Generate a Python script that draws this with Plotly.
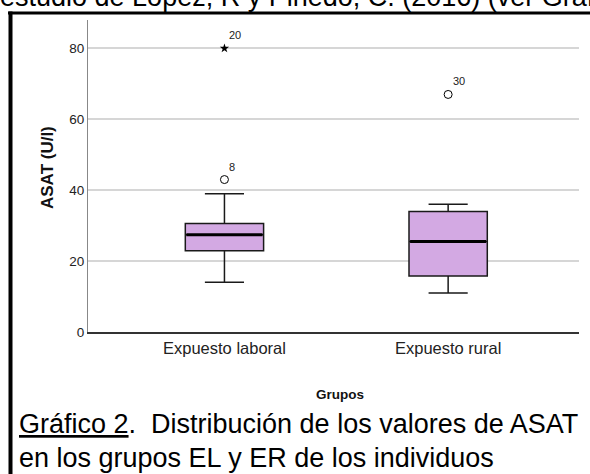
import plotly.graph_objects as go

# ---- data ----
groups = ["Expuesto laboral", "Expuesto rural"]
q1 = [22.9, 15.8]
median = [27.4, 25.5]
q3 = [30.6, 34.0]
lower_whisker = [14.0, 11.0]
upper_whisker = [39.0, 36.0]

outlier_groups = ["Expuesto laboral", "Expuesto rural"]
outlier_values = [43.0, 67.0]
outlier_ids = ["8", "30"]

extreme_groups = ["Expuesto laboral"]
extreme_values = [80.0]
extreme_ids = ["20"]

y_ticks = [0, 20, 40, 60, 80]

BOX_W = 0.35
FILL = "#D3A9E3"
ARIAL = "Liberation Sans, Arial, sans-serif"

ML, MR, MT, MB = 88, 11, 20, 142
W, H = 590, 474

fig = go.Figure()

fig.add_trace(go.Box(
    x=groups, q1=q1, median=median, q3=q3,
    lowerfence=lower_whisker, upperfence=upper_whisker,
    width=BOX_W, whiskerwidth=0.5,
    fillcolor=FILL, line=dict(color="#1a1a1a", width=1.5),
    boxpoints=False, showlegend=False, hoverinfo="skip",
))

# thicker median lines
for i, g in enumerate(groups):
    fig.add_trace(go.Scatter(
        x=[i - BOX_W / 2 + 0.005, i + BOX_W / 2 - 0.005], y=[median[i], median[i]],
        mode="lines", line=dict(color="black", width=3),
        showlegend=False, hoverinfo="skip", xaxis="x2",
    ))

fig.add_trace(go.Scatter(
    x=outlier_groups, y=outlier_values, mode="markers",
    marker=dict(symbol="circle-open", size=8, color="black", line=dict(width=1)),
    showlegend=False, hoverinfo="skip",
))
fig.add_trace(go.Scatter(
    x=extreme_groups, y=extreme_values, mode="markers",
    marker=dict(symbol="star", size=7, color="black", line=dict(width=0)),
    showlegend=False, hoverinfo="skip",
))

for g, v, t in list(zip(outlier_groups, outlier_values, outlier_ids)) + list(zip(extreme_groups, extreme_values, extreme_ids)):
    fig.add_annotation(x=g, y=v, text=t, showarrow=False, xanchor="left", yanchor="bottom",
                       xshift=3, yshift=5, font=dict(family=ARIAL, size=11, color="#222"))

XR = [-0.61, 1.585]

fig.update_layout(
    width=W, height=H,
    margin=dict(l=ML, r=MR, t=MT, b=MB, autoexpand=False),
    paper_bgcolor="white", plot_bgcolor="white",
    xaxis=dict(
        type="category", categoryorder="array", categoryarray=groups,
        range=XR, showgrid=False, showline=True, linecolor="#333", linewidth=1.5,
        ticks="", tickfont=dict(family=ARIAL, size=16.5, color="#222"),
        zeroline=False, automargin=False,
    ),
    xaxis2=dict(overlaying="x", range=XR, visible=False),
    yaxis=dict(
        range=[0, 88], tickvals=y_ticks, showgrid=True, gridcolor="#d6d6d6", gridwidth=1.5,
        showline=True, linecolor="#888", linewidth=1, ticks="", zeroline=False,
        tickfont=dict(family=ARIAL, size=13.5, color="#222"), automargin=False,
    ),
)

def px2paper_x(px):
    return (px - ML) / (W - ML - MR)

def px2paper_y(py):
    return (H - MB - py) / (H - MB - MT)

# axis titles
fig.add_annotation(xref="paper", yref="paper", x=px2paper_x(47), y=px2paper_y(168),
                   text="<b>ASAT (U/l)</b>", textangle=-90, showarrow=False,
                   xanchor="center", yanchor="middle",
                   font=dict(family=ARIAL, size=17, color="#111"))
fig.add_annotation(xref="paper", yref="paper", x=px2paper_x(340), y=px2paper_y(394),
                   text="<b>Grupos</b>", showarrow=False,
                   xanchor="center", yanchor="middle",
                   font=dict(family=ARIAL, size=13.5, color="#111"))

# document frame (top and left rules)
fig.add_shape(type="line", xref="paper", yref="paper",
              x0=px2paper_x(8), x1=px2paper_x(595), y0=px2paper_y(13), y1=px2paper_y(13),
              line=dict(color="black", width=3))
fig.add_shape(type="line", xref="paper", yref="paper",
              x0=px2paper_x(10.5), x1=px2paper_x(10.5), y0=px2paper_y(11.5), y1=px2paper_y(480),
              line=dict(color="black", width=4))

# document text
fig.add_annotation(xref="paper", yref="paper", x=px2paper_x(-2), y=px2paper_y(-3),
                   xanchor="left", yanchor="middle", showarrow=False,
                   text="estudio de López, R y Pinedo, C. (2016) (ver Gráfico 2)",
                   font=dict(family=ARIAL, size=27, color="black"))
fig.add_annotation(xref="paper", yref="paper", x=px2paper_x(17), y=px2paper_y(424),
                   xanchor="left", yanchor="middle", showarrow=False,
                   text='<span style="text-decoration:underline">Gráfico 2</span>.  Distribución de los valores de ASAT',
                   font=dict(family=ARIAL, size=27, color="black"))
fig.add_annotation(xref="paper", yref="paper", x=px2paper_x(17), y=px2paper_y(458),
                   xanchor="left", yanchor="middle", showarrow=False,
                   text="en los grupos EL y ER de los individuos",
                   font=dict(family=ARIAL, size=27, color="black"))

fig.write_html("out.html", config={"displayModeBar": False},
               post_script="document.body.style.margin='0';")
